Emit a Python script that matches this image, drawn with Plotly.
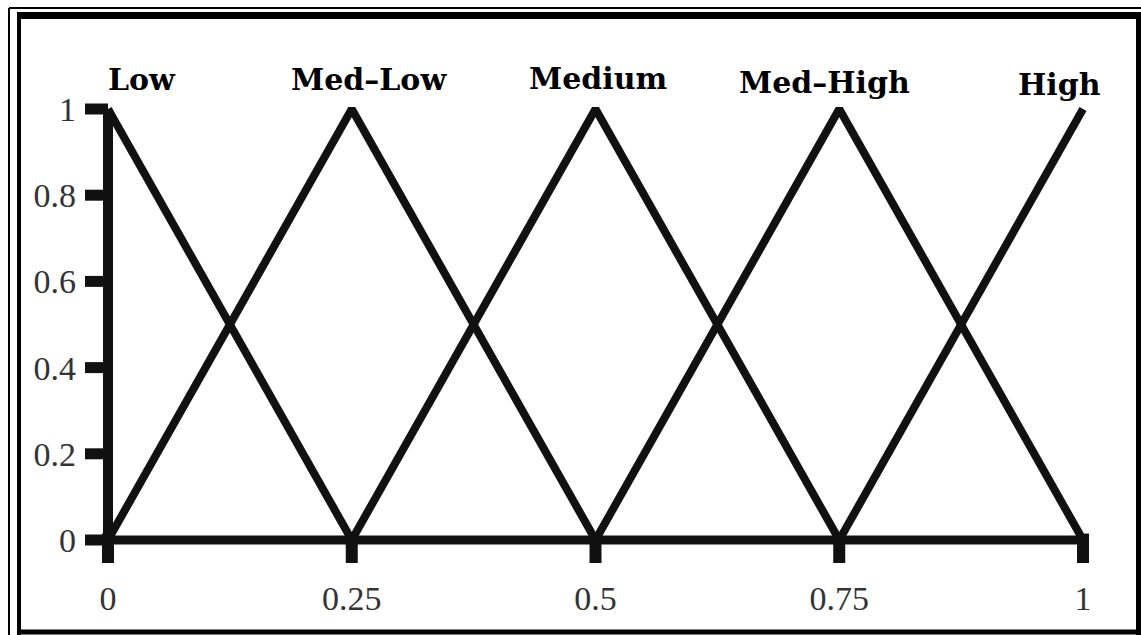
import plotly.graph_objects as go

# membership functions (triangular), x = input, y = degree of membership
set_names = ["Low", "Med\u2013Low", "Medium", "Med\u2013High", "High"]
low_x = [0, 0.25]
low_y = [1, 0]
medlow_x = [0, 0.25, 0.5]
medlow_y = [0, 1, 0]
medium_x = [0.25, 0.5, 0.75]
medium_y = [0, 1, 0]
medhigh_x = [0.5, 0.75, 1]
medhigh_y = [0, 1, 0]
high_x = [0.75, 1]
high_y = [0, 1]

x_ticks = [0, 0.25, 0.5, 0.75, 1]
x_ticktext = ["0", "0.25", "0.5", "0.75", "1"]
y_ticks = [0, 0.2, 0.4, 0.6, 0.8, 1]
y_ticktext = ["0", "0.2", "0.4", "0.6", "0.8", "1"]

# pixel layout of the picture
W, H = 1141, 635
L, R, T, B = 85, 46, 60, 72
plot_w = W - L - R
plot_h = H - T - B
x0_px, x1_px = 108, 1083
y0_px, y1_px = 540, 109
sx = (x1_px - x0_px)
sy = (y0_px - y1_px)
x_range = [(L - x0_px) / sx, (W - R - x0_px) / sx]
y_range = [-(H - B - y0_px) / sy, 1 + (y1_px - T) / sy]


def px(v):
    return (v - L) / plot_w


def py(v):
    return (H - B - v) / plot_h


black = "#111111"
fig = go.Figure()

series = [(low_x, low_y), (medlow_x, medlow_y), (medium_x, medium_y),
          (medhigh_x, medhigh_y), (high_x, high_y)]
for name, (xs, ys) in zip(set_names, series):
    fig.add_trace(go.Scatter(x=xs, y=ys, mode="lines", name=name,
                             line=dict(color=black, width=8),
                             showlegend=False, hoverinfo="skip"))

# axis lines
fig.add_trace(go.Scatter(x=[0, 0], y=[y_ticks[0], y_ticks[-1]], mode="lines",
                         line=dict(color=black, width=10), showlegend=False))
fig.add_trace(go.Scatter(x=[x_ticks[0], x_ticks[-1]], y=[0, 0], mode="lines",
                         line=dict(color=black, width=9), showlegend=False))

shapes = []
# tick stubs
for t in y_ticks:
    shapes.append(dict(type="line", xref="x", yref="y", x0=x_range[0], x1=0,
                       y0=t, y1=t, line=dict(color=black, width=11)))
for t in x_ticks:
    shapes.append(dict(type="line", xref="x", yref="y", x0=t, x1=t,
                       y0=y_range[0], y1=0.015, line=dict(color=black, width=12)))

# double frame around the picture
frame = [
    (9, 8, W, 8, 2), (9, 8, 9, H, 2),
    (17, 15.5, W, 15.5, 7), (19, 12, 19, H, 4),
    (17, 632, W, 632, 5), (1138.5, 12, 1138.5, H, 5),
]
for a, b, c, d, w in frame:
    shapes.append(dict(type="line", xref="paper", yref="paper",
                       x0=px(a), y0=py(b), x1=px(c), y1=py(d),
                       line=dict(color="black", width=w)))

# set labels above the peaks
label_x = [0.035, 0.268, 0.503, 0.735, 0.976]
label_y = [1.068, 1.068, 1.07, 1.062, 1.058]
annotations = []
for name, lx, ly in zip(set_names, label_x, label_y):
    annotations.append(dict(x=lx, y=ly, xref="x", yref="y", text=name,
                            showarrow=False, xanchor="center", yanchor="middle",
                            font=dict(family="DejaVu Serif", size=30,
                                      color="black", weight="bold")))

fig.update_layout(
    width=W, height=H,
    margin=dict(l=L, r=R, t=T, b=B),
    paper_bgcolor="white", plot_bgcolor="white",
    shapes=shapes, annotations=annotations,
    xaxis=dict(range=x_range, tickvals=x_ticks, ticktext=x_ticktext,
               showgrid=False, zeroline=False, showline=False, ticks="",
               ticklabelstandoff=12,
               tickfont=dict(family="Liberation Serif", size=34, color="#333333")),
    yaxis=dict(range=y_range, tickvals=y_ticks, ticktext=y_ticktext,
               showgrid=False, zeroline=False, showline=False, ticks="",
               ticklabelstandoff=8,
               tickfont=dict(family="Liberation Serif", size=34, color="#333333")),
)

# drop the default page margin so the figure sits at the window corner
fig.write_html("out.html", config={"displayModeBar": False},
               post_script="document.body.style.margin = '0';")
